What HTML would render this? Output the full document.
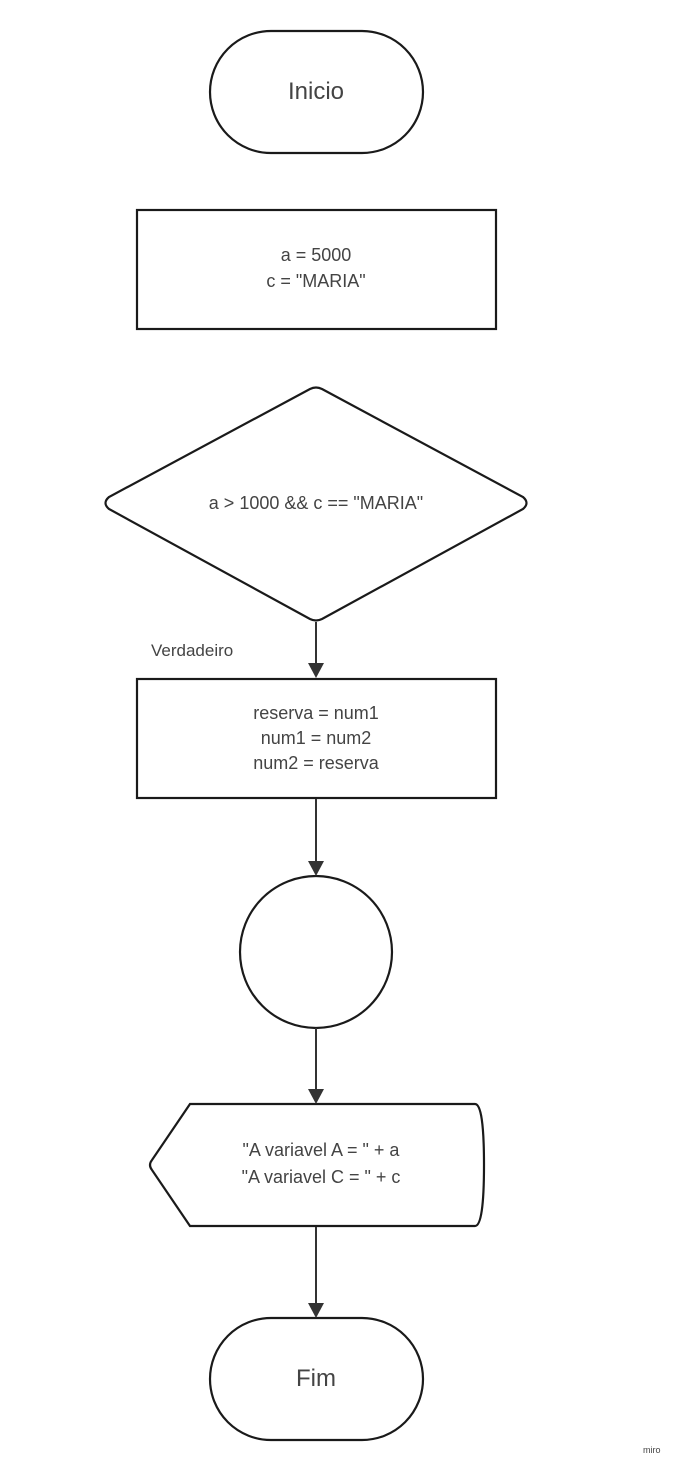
<!DOCTYPE html>
<html><head><meta charset="utf-8"><style>
html,body{margin:0;padding:0;background:#fff;width:680px;height:1470px;overflow:hidden}
text{font-family:"Liberation Sans",sans-serif;fill:#444}
</style></head><body>
<svg width="680" height="1470" viewBox="0 0 680 1470" xmlns="http://www.w3.org/2000/svg">
<g fill="none" stroke="#1a1a1a" stroke-width="2.2">
<rect x="210" y="31" width="213" height="122" rx="61"/>
<rect x="137" y="210" width="359" height="119"/>
<path d="M322 389 L523 497 Q530 503 523 509 L322 619 Q316 622 310 619 L109 509 Q102 503 109 497 L310 389 Q316 386 322 389 Z"/>
<rect x="137" y="679" width="359" height="119"/>
<circle cx="316" cy="952" r="76"/>
<path d="M190 1104 L475 1104 Q484 1104 484 1165 Q484 1226 475 1226 L190 1226 L152 1170 Q148 1165 152 1160 Z"/>
<rect x="210" y="1318" width="213" height="122" rx="61"/>
</g>
<g stroke="#333" stroke-width="2">
<line x1="316" y1="622" x2="316" y2="664"/>
<line x1="316" y1="799" x2="316" y2="862"/>
<line x1="316" y1="1028" x2="316" y2="1090"/>
<line x1="316" y1="1227" x2="316" y2="1304"/>
</g>
<g fill="#333">
<path d="M308 663 L324 663 L316 678 Z"/>
<path d="M308 861 L324 861 L316 876 Z"/>
<path d="M308 1089 L324 1089 L316 1104 Z"/>
<path d="M308 1303 L324 1303 L316 1318 Z"/>
</g>
<g text-anchor="middle" font-size="18">
<text x="316" y="99" font-size="24">Inicio</text>
<text x="316" y="261">a = 5000</text>
<text x="316" y="287">c = "MARIA"</text>
<text x="316" y="509">a &gt; 1000 &amp;&amp; c == "MARIA"</text>
<text x="316" y="719">reserva = num1</text>
<text x="316" y="744">num1 = num2</text>
<text x="316" y="769">num2 = reserva</text>
<text x="321" y="1156">"A variavel A = " + a</text>
<text x="321" y="1183">"A variavel C = " + c</text>
<text x="316" y="1386" font-size="24">Fim</text>
</g>
<text x="151" y="656" font-size="17">Verdadeiro</text>
<text x="643" y="1453" font-size="9" fill="#bbb">miro</text>
</svg>
</body></html>
